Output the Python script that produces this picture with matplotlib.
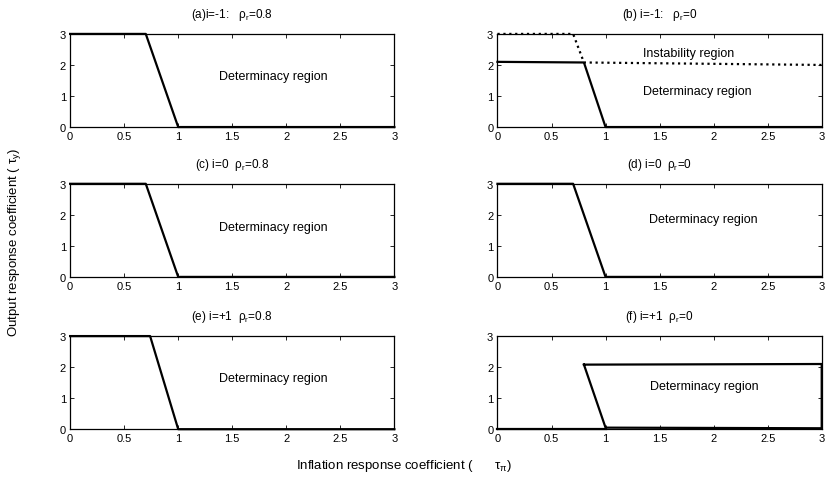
import matplotlib.pyplot as plt

plt.rcParams['font.family'] = ['Liberation Sans', 'DejaVu Sans']
plt.rcParams['mathtext.fontset'] = 'custom'
plt.rcParams['mathtext.rm'] = 'Liberation Sans'

titles = [
    r"(a)i=-1:   ρ$_{\rm r}$=0.8",
    r"(b) i=-1:   ρ$_{\rm r}$=0",
    r"(c) i=0  ρ$_{\rm r}$=0.8",
    r"(d) i=0  ρ$_{\rm r}$=0",
    r"(e) i=+1  ρ$_{\rm r}$=0.8",
    r"(f) i=+1  ρ$_{\rm r}$=0",
]

# boundary curves per panel: (x, y, style)
bound_a = ([0, 0.7, 1.0, 3.0], [3, 3, 0, 0])
bound_b_solid = ([0, 0.8, 1.0, 3.0], [2.1, 2.08, 0, 0])
bound_b_dot = ([0, 0.7, 0.8, 3.0], [3, 3, 2.08, 2.0])
bound_c = ([0, 0.7, 1.0, 3.0], [3, 3, 0, 0])
bound_d = ([0, 0.7, 1.0, 3.0], [3, 3, 0, 0])
bound_e = ([0, 0.74, 1.0, 3.0], [3, 3, 0, 0])
bound_f = ([0.8, 3.0, 3.0, 1.0, 0.8], [2.08, 2.1, 0.03, 0.05, 2.08])
bound_f_base = ([0, 1.0], [0, 0])

curves = [
    [(bound_a, '-')],
    [(bound_b_solid, '-'), (bound_b_dot, ':')],
    [(bound_c, '-')],
    [(bound_d, '-')],
    [(bound_e, '-')],
    [(bound_f, '-'), (bound_f_base, '-')],
]

labels = [
    [("Determinacy region", 1.88, 1.64)],
    [("Instability region", 1.77, 2.4), ("Determinacy region", 1.85, 1.16)],
    [("Determinacy region", 1.88, 1.62)],
    [("Determinacy region", 1.9, 1.85)],
    [("Determinacy region", 1.88, 1.64)],
    [("Determinacy region", 1.91, 1.4)],
]

fig = plt.figure(figsize=(8.25, 4.85), dpi=100)
lefts = [0.085, 0.603]
bottoms = [0.736, 0.427, 0.113]
w, h = 0.393, 0.192

for k in range(6):
    r, c = divmod(k, 2)
    ax = fig.add_axes([lefts[c], bottoms[r], w, h])
    for (xs, ys), ls in curves[k]:
        ax.plot(xs, ys, color='black', linestyle=ls, linewidth=1.6, clip_on=False)
    for txt, tx, ty in labels[k]:
        ax.text(tx, ty, txt, ha='center', va='center', fontsize=9)
    ax.set_xlim(0, 3)
    ax.set_ylim(0, 3)
    ax.set_xticks([0, 0.5, 1, 1.5, 2, 2.5, 3])
    ax.set_xticklabels(['0', '0.5', '1', '1.5', '2', '2.5', '3'])
    ax.set_yticks([0, 1, 2, 3])
    ax.tick_params(direction='in', top=True, right=True, length=3, width=0.6,
                   labelsize=8, pad=3)
    for s in ax.spines.values():
        s.set_linewidth(0.9)
    ax.set_title(titles[k], fontsize=8.5, pad=12)

fig.text(0.018, 0.5, r"Output response coefficient ( τ$_{\rm y}$)", rotation=90,
         ha='center', va='center', fontsize=9.5)
fig.text(0.49, 0.04, r"Inflation response coefficient (      τ$_{\rm π}$)",
         ha='center', va='center', fontsize=9.5)

fig.savefig('out.png', dpi=100)
